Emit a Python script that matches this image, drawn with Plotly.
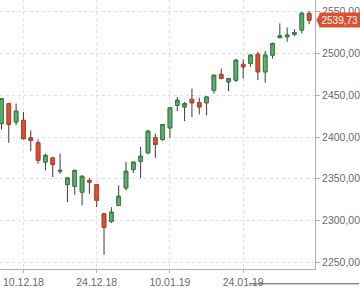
import plotly.graph_objects as go

dates = ["2018-12-05","2018-12-06","2018-12-07","2018-12-10","2018-12-11","2018-12-12","2018-12-13",
         "2018-12-14","2018-12-17","2018-12-18","2018-12-19","2018-12-20","2018-12-21","2018-12-24",
         "2018-12-27","2018-12-28","2018-12-31","2019-01-02","2019-01-03","2019-01-04","2019-01-07",
         "2019-01-08","2019-01-09","2019-01-10","2019-01-11","2019-01-14","2019-01-15","2019-01-16",
         "2019-01-17","2019-01-18","2019-01-21","2019-01-22","2019-01-23","2019-01-24","2019-01-25",
         "2019-01-28","2019-01-29","2019-01-30","2019-01-31","2019-02-01","2019-02-04","2019-02-05",
         "2019-02-06"]
opens  = [2416,2440,2418,2420,2399,2393,2370,2375,2359,2343,2341,2334,2348,2343,
          2308,2299,2318,2339,2361,2371,2381,2399,2397,2411,2438,2436,2445,2441,
          2441,2456,2475,2466,2468,2487,2488,2499,2478,2498,2519,2520,2523,2528,2548]
highs  = [2446,2441,2440,2430,2408,2397,2380,2375,2380,2351,2361,2354,2351,2343,
          2308,2316,2342,2370,2370,2388,2408,2404,2415,2435,2448,2442,2458,2447,
          2448,2474,2482,2470,2493,2493,2499,2502,2503,2513,2536,2531,2529,2550,2551]
lows   = [2409,2393,2414,2397,2383,2368,2360,2352,2356,2322,2331,2318,2332,2316,
          2259,2297,2317,2336,2357,2351,2380,2375,2395,2399,2431,2419,2424,2427,
          2426,2452,2469,2455,2466,2470,2484,2468,2465,2494,2518,2514,2521,2524,2535]
closes = [2446,2415,2431,2398,2396,2372,2378,2367,2360,2351,2360,2353,2346,2324,
          2292,2310,2329,2359,2370,2377,2407,2391,2415,2435,2444,2440,2441,2436,
          2448,2474,2470,2470,2492,2484,2498,2478,2498,2512,2521,2522,2525,2548,2539.73]
tick_dates = ["2018-12-10","2018-12-24","2019-01-10","2019-01-24"]
tick_text = ["10.12.18","24.12.18","10.01.19","24.01.19"]
y_ticks = [2250,2300,2350,2400,2450,2500,2550]
y_tick_text = ["2250,00","2300,00","2350,00","2400,00","2450,00","2500,00","2550,00"]
last_price_text = "2539,73"

GREEN_FILL = "#60ab74"
GREEN_LINE = "#2f8a3b"
RED_FILL = "#d9512f"
RED_LINE = "#c2412a"
WICK = "#3a3a3a"

body_hi = [max(o, c) for o, c in zip(opens, closes)]
body_lo = [min(o, c) for o, c in zip(opens, closes)]

fig = go.Figure()
fig.add_trace(go.Candlestick(
    x=dates, open=opens, high=highs, low=lows, close=closes,
    increasing=dict(line=dict(color=WICK, width=1), fillcolor=GREEN_FILL),
    decreasing=dict(line=dict(color=WICK, width=1), fillcolor=RED_FILL),
    hoverinfo="skip", showlegend=False))
fig.add_trace(go.Candlestick(
    x=dates, open=opens, high=body_hi, low=body_lo, close=closes,
    increasing=dict(line=dict(color=GREEN_LINE, width=1), fillcolor=GREEN_FILL),
    decreasing=dict(line=dict(color=RED_LINE, width=1), fillcolor=RED_FILL),
    hoverinfo="skip", showlegend=False))

font = dict(family="Liberation Sans, Arial, sans-serif", size=10.5, color="#6a6a6a")

fig.update_layout(
    width=360, height=288,
    margin=dict(l=0, r=44, t=0, b=16),
    paper_bgcolor="#ffffff", plot_bgcolor="#ffffff",
    font=font, showlegend=False,
    xaxis=dict(type="category", rangeslider=dict(visible=False),
               range=[-0.2, 42.8], tickmode="array", tickvals=tick_dates, ticktext=tick_text,
               showgrid=True, gridcolor="#e0e0e0", griddash="dot", gridwidth=1,
               showline=True, linecolor="#b0b0b0", linewidth=1,
               ticks="outside", ticklen=3, tickcolor="#b0b0b0", zeroline=False,
               tickfont=font),
    yaxis=dict(side="right", range=[2242, 2564], tickmode="array", tickvals=y_ticks,
               ticktext=y_tick_text,
               showgrid=True, gridcolor="#e0e0e0", griddash="dot", gridwidth=1,
               showline=True, linecolor="#b0b0b0", linewidth=1,
               ticks="outside", ticklen=4, tickcolor="#b0b0b0", zeroline=False,
               tickfont=font),
)

# last price tag
last = closes[-1]
fig.add_shape(type="path", xref="paper", yref="y",
              path=f"M 1.004 {last} L 1.016 {last+8.5} L 1.016 {last-8.5} Z",
              fillcolor=RED_FILL, line=dict(width=0), layer="above")
fig.add_annotation(xref="paper", yref="y", x=1.014, y=last, xanchor="left", yanchor="middle",
                   text=last_price_text, showarrow=False, bgcolor=RED_FILL,
                   font=dict(family="Liberation Sans, Arial, sans-serif", size=10, color="#ffffff"),
                   borderpad=1.5)
fig.add_shape(type="line", xref="paper", yref="paper", x0=0.79, x1=1.14, y0=-0.055, y1=-0.055,
              line=dict(color="#555555", width=1))

fig.write_html("out.html")
